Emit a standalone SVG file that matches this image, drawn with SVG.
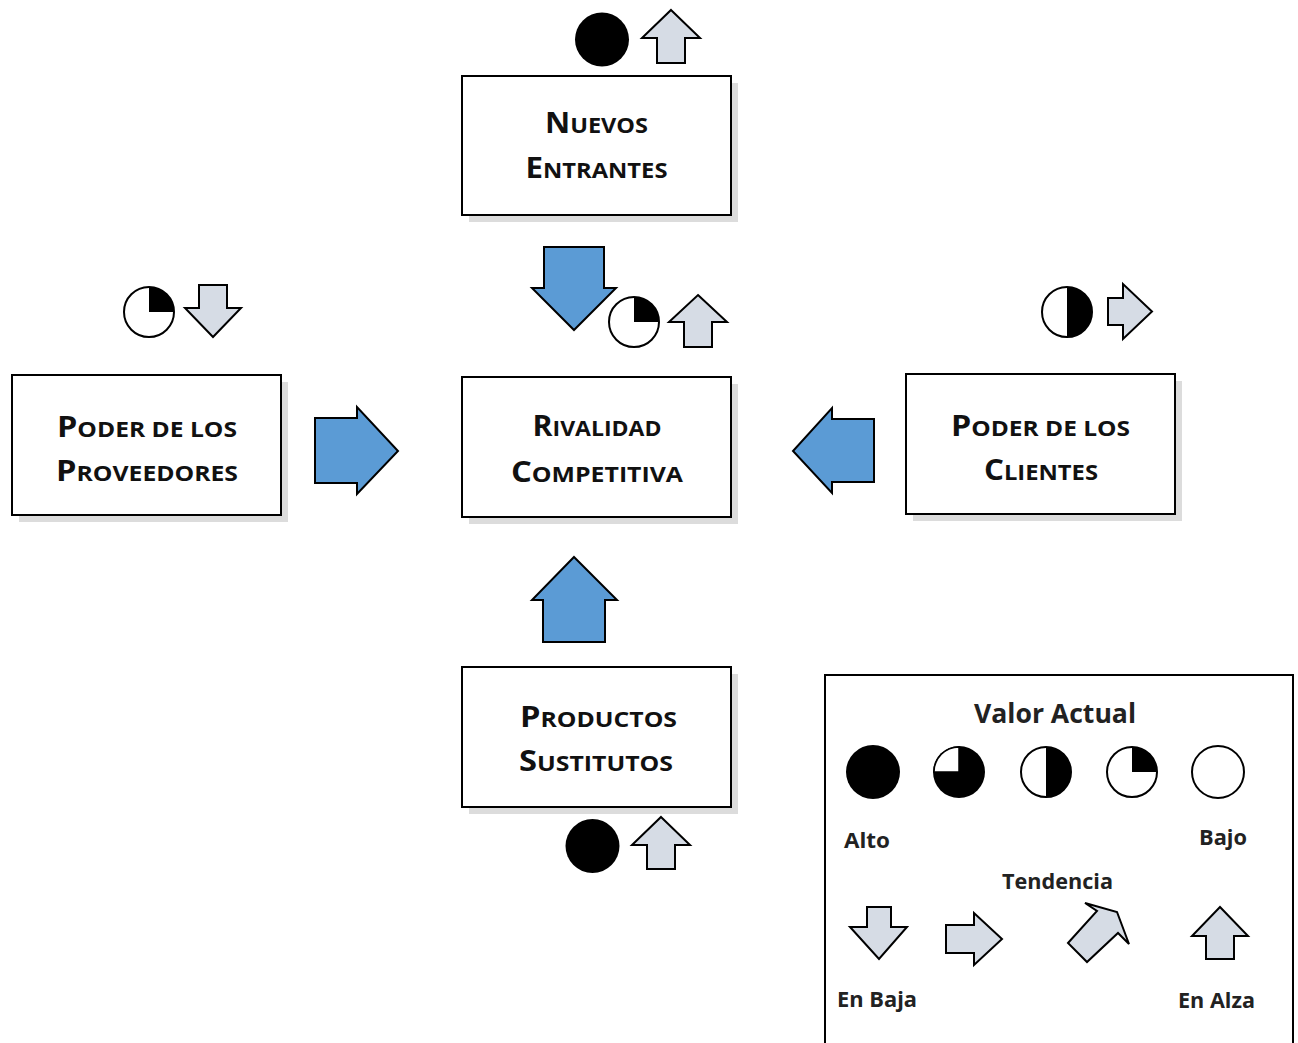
<svg xmlns="http://www.w3.org/2000/svg" width="1298" height="1043" viewBox="0 0 1298 1043">
<style>
.box{fill:#fff;stroke:#000;stroke-width:2}
.shadow{fill:#dcdcdc}
.lbl{font-family:"Open Sans","Liberation Sans",sans-serif;font-weight:bold;fill:#111;text-anchor:middle}
.big{font-size:29px}
.sm{font-size:22px}
.blue{fill:#5B9BD5;stroke:#000;stroke-width:2;stroke-linejoin:miter}
.gray{fill:#D6DCE5;stroke:#000;stroke-width:2;stroke-linejoin:miter}
.ring{fill:#fff;stroke:#000;stroke-width:2}
.blk{fill:#000}
.leg{font-family:"Open Sans","Liberation Sans",sans-serif;font-weight:bold;fill:#222;text-anchor:middle}
</style>
<rect width="1298" height="1043" fill="#fff"/>

<g id="node-nuevos">
<rect class="shadow" x="469" y="83" width="269" height="139"/>
<rect class="box" x="462" y="76" width="269" height="139"/>
<text class="lbl" x="596.5" y="133" textLength="103" lengthAdjust="spacingAndGlyphs"><tspan class="big">N</tspan><tspan class="sm">UEVOS</tspan></text>
<text class="lbl" x="596.5" y="178" textLength="142" lengthAdjust="spacingAndGlyphs"><tspan class="big">E</tspan><tspan class="sm">NTRANTES</tspan></text>
</g>

<g id="node-rivalidad">
<rect class="shadow" x="469" y="384" width="269" height="140"/>
<rect class="box" x="462" y="377" width="269" height="140"/>
<text class="lbl" x="597" y="436" textLength="129" lengthAdjust="spacingAndGlyphs"><tspan class="big">R</tspan><tspan class="sm">IVALIDAD</tspan></text>
<text class="lbl" x="597" y="482" textLength="172" lengthAdjust="spacingAndGlyphs"><tspan class="big">C</tspan><tspan class="sm">OMPETITIVA</tspan></text>
</g>

<g id="node-proveedores">
<rect class="shadow" x="19" y="382" width="269" height="140"/>
<rect class="box" x="12" y="375" width="269" height="140"/>
<text class="lbl" x="147" y="437" textLength="180" lengthAdjust="spacingAndGlyphs"><tspan class="big">P</tspan><tspan class="sm">ODER DE LOS</tspan></text>
<text class="lbl" x="147" y="481" textLength="182" lengthAdjust="spacingAndGlyphs"><tspan class="big">P</tspan><tspan class="sm">ROVEEDORES</tspan></text>
</g>

<g id="node-clientes">
<rect class="shadow" x="913" y="381" width="269" height="140"/>
<rect class="box" x="906" y="374" width="269" height="140"/>
<text class="lbl" x="1040.5" y="436" textLength="179" lengthAdjust="spacingAndGlyphs"><tspan class="big">P</tspan><tspan class="sm">ODER DE LOS</tspan></text>
<text class="lbl" x="1041" y="480" textLength="114" lengthAdjust="spacingAndGlyphs"><tspan class="big">C</tspan><tspan class="sm">LIENTES</tspan></text>
</g>

<g id="node-productos">
<rect class="shadow" x="469" y="674" width="269" height="140"/>
<rect class="box" x="462" y="667" width="269" height="140"/>
<text class="lbl" x="598.5" y="727" textLength="157" lengthAdjust="spacingAndGlyphs"><tspan class="big">P</tspan><tspan class="sm">RODUCTOS</tspan></text>
<text class="lbl" x="596" y="771" textLength="154" lengthAdjust="spacingAndGlyphs"><tspan class="big">S</tspan><tspan class="sm">USTITUTOS</tspan></text>
</g>

<g id="connectors">
<polygon class="blue" points="544,247 604,247 604,288 616,288 574,330 532,288 544,288"/>
<polygon class="blue" points="315,418 357,418 357,407 398,451 357,494 357,483 315,483"/>
<polygon class="blue" points="874,419 832,419 832,408 793,451 832,493 832,482 874,482"/>
<polygon class="blue" points="574,557 617,600 605,600 605,642 543,642 543,600 532,600"/>
</g>

<g id="indicators">
<circle class="blk" cx="602" cy="39.5" r="27"/>
<polygon class="gray" points="671,10 700,38 685,38 685,63 657,63 657,38 642,38"/>

<circle class="ring" cx="634" cy="322" r="25"/>
<path class="blk" d="M634,322 L634,297 A25,25 0 0 1 659,322 Z"/>
<polygon class="gray" points="698,295 727,322 712,322 712,347 684,347 684,322 669,322"/>

<circle class="ring" cx="149" cy="312" r="25"/>
<path class="blk" d="M149,312 L149,287 A25,25 0 0 1 174,312 Z"/>
<polygon class="gray" points="199,285 227,285 227,308 241,308 213,337 185,308 199,308"/>

<circle class="ring" cx="1067" cy="312" r="25"/>
<path class="blk" d="M1067,287 A25,25 0 0 1 1067,337 Z"/>
<polygon class="gray" points="1108,298 1123,298 1123,284 1152,311.5 1123,339 1123,325 1108,325"/>

<circle class="blk" cx="592.5" cy="846" r="27"/>
<polygon class="gray" points="661,817 690,845 675,845 675,869 647,869 647,845 632,845"/>
</g>

<g id="legend">
<rect x="825" y="675" width="468" height="400" fill="#fff" stroke="#000" stroke-width="2"/>
<text class="leg" x="1055" y="723" font-size="26" textLength="162" lengthAdjust="spacingAndGlyphs">Valor Actual</text>
<circle class="blk" cx="873" cy="772" r="27"/>
<circle class="blk" cx="959" cy="772" r="26"/>
<path d="M959,772 L934,772 A25,25 0 0 1 959,747 Z" fill="#fff" stroke="#000" stroke-width="1.5"/>
<circle class="ring" cx="1046" cy="772" r="25"/>
<path class="blk" d="M1046,747 A25,25 0 0 1 1046,797 Z"/>
<circle class="ring" cx="1132" cy="772" r="25"/>
<path class="blk" d="M1132,772 L1132,747 A25,25 0 0 1 1157,772 Z"/>
<circle class="ring" cx="1218" cy="772" r="26" stroke-width="1.5"/>
<text class="leg" x="867" y="848" font-size="22" textLength="46" lengthAdjust="spacingAndGlyphs">Alto</text>
<text class="leg" x="1223" y="845" font-size="22" textLength="48" lengthAdjust="spacingAndGlyphs">Bajo</text>
<text class="leg" x="1057.5" y="889" font-size="22" textLength="111" lengthAdjust="spacingAndGlyphs">Tendencia</text>
<polygon class="gray" points="867,907 891,907 891,927 907,927 879,959 850,927 867,927"/>
<polygon class="gray" points="946,925 974,925 974,913 1002,939 974,965 974,953 946,953"/>
<polygon class="gray" points="1068,943 1097,911 1085,903 1117,912 1129,944 1118,933 1087,962"/>
<polygon class="gray" points="1220,907 1248,936 1234,936 1234,959 1206,959 1206,936 1192,936"/>
<text class="leg" x="877" y="1007" font-size="22" textLength="80" lengthAdjust="spacingAndGlyphs">En Baja</text>
<text class="leg" x="1216.5" y="1008" font-size="22" textLength="77" lengthAdjust="spacingAndGlyphs">En Alza</text>
</g>
</svg>
